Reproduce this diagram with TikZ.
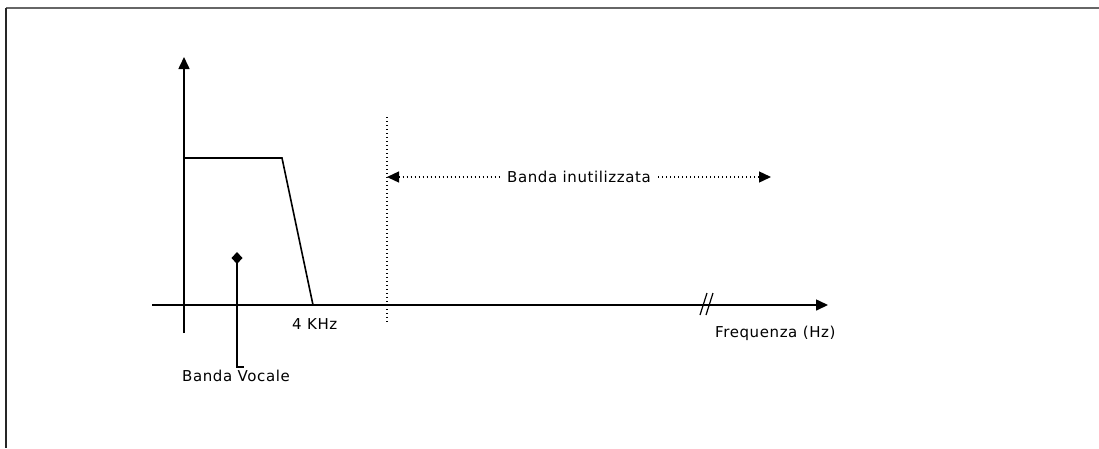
\documentclass[tikz,border=0pt]{standalone}
\usepackage{fontspec}
\setmainfont{DejaVu Sans}[LetterSpace=4]
\usetikzlibrary{arrows.meta}
\begin{document}
\begin{tikzpicture}[x=1pt,y=-1pt,
  ln/.style={line width=1.6pt,black},
  dotline/.style={line width=1.3pt,dash pattern=on 1.3pt off 2.7pt},
  tip/.style={-{Triangle[length=12pt,width=11pt]}},
  lbl/.style={font=\fontsize{15}{17}\selectfont,inner sep=0pt}]
\useasboundingbox (0,0) rectangle (1099,448);
% frame
\draw[gray!80!black,line width=1.5pt] (6,8) -- (1099,8);
\draw[black!85,line width=1.5pt] (6,8) -- (6,448);
% axes
\coordinate (yb) at (184,333);
\coordinate (yt) at (184,57);
\coordinate (xl) at (152,305);
\coordinate (xr) at (828,305);
\draw[ln,tip] (yb) -- (yt);
\draw[ln,tip] (xl) -- (xr);
% spectrum
\coordinate (p1) at (184,158);
\coordinate (p2) at (282,158);
\coordinate (p3) at (313,305);
\draw[ln] (p1) -- (p2) -- (p3);
% marker
\coordinate (m) at (237,258);
\coordinate (mb) at (237,367);
\coordinate (mr) at (244,367);
\draw[ln] (m) -- (mb) -- (mr);
\fill (237,252) -- (242.5,258) -- (237,264) -- (231.5,258) -- cycle;
\node[lbl,anchor=west] (bv) at (182,376) {Banda Vocale};
\node[lbl,anchor=west] (khz) at (292,324) {4 KHz};
% dotted vertical
\coordinate (dt) at (387,117);
\coordinate (db) at (387,323);
\draw[dotline] (dt) -- (db);
% unused band
\node[lbl,inner xsep=7pt] (bi) at (579,177) {Banda inutilizzata};
\coordinate (al) at (387,177);
\coordinate (ar) at (771,177);
\draw[dotline,{Triangle[length=12pt,width=11pt]}-] (al) -- (bi.west);
\draw[dotline,-{Triangle[length=12pt,width=11pt]}] (bi.east) -- (ar);
% break marks
\draw[line width=1.2pt] (700,315) -- (707,293);
\draw[line width=1.2pt] (706,315) -- (713,293);
\node[lbl,anchor=west] (fq) at (715,333) {Frequenza (Hz)};
\end{tikzpicture}
\end{document}
